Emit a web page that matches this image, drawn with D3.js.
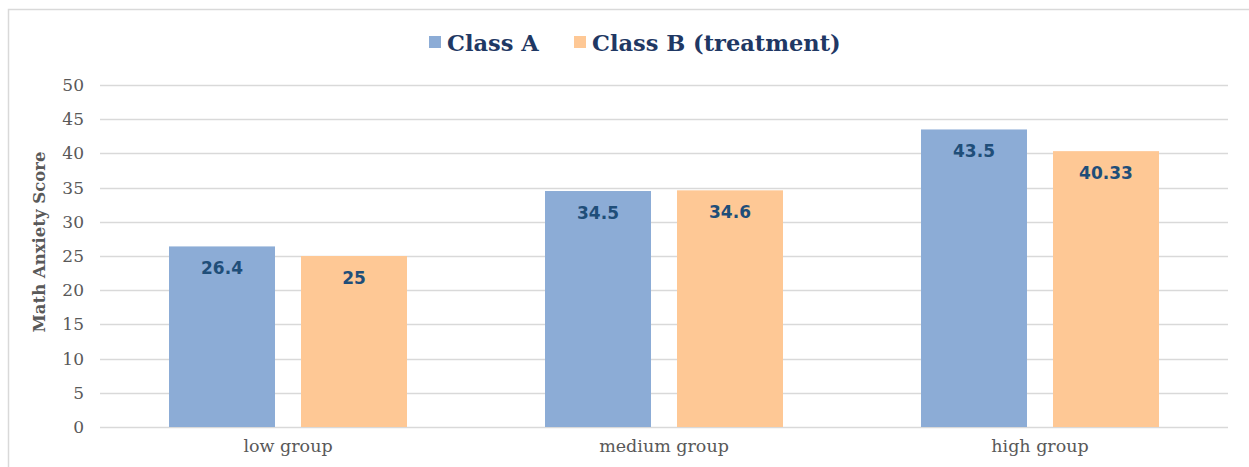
<!DOCTYPE html>
<html><head><meta charset="utf-8">
<script src="https://cdn.jsdelivr.net/npm/d3@7"></script>
<style>body{margin:0;background:#fff;}svg{display:block;}</style>
</head><body>
<svg id="chart" width="1249" height="467"></svg>
<script>
const categories = ["low group", "medium group", "high group"];
const seriesNames = ["Class A", "Class B (treatment)"];
const classA = [26.4, 34.5, 43.5];
const classB = [25, 34.6, 40.33];
const labelsA = ["26.4", "34.5", "43.5"];
const labelsB = ["25", "34.6", "40.33"];
const yTicks = [0, 5, 10, 15, 20, 25, 30, 35, 40, 45, 50];
const colors = ["#8CACD6", "#FEC895"];

const svg = d3.select("#chart");
const W = 1249, H = 467;
const plotBottom = 427;

// outer border
svg.append("rect").attr("x", 8.5).attr("y", 9.5).attr("width", W + 10).attr("height", H + 10)
  .attr("fill", "none").attr("stroke", "#d9d9d9").attr("stroke-width", 1.5);

const x0 = d3.scaleBand().domain(categories).range([100, 1228]).paddingInner(0).paddingOuter(0);
const x1 = d3.scaleBand().domain(seriesNames).range([69, 307]).paddingInner(0.197).paddingOuter(0);
const y = d3.scaleLinear().domain([0, 50]).range([plotBottom, 85]);

// gridlines
svg.append("g").selectAll("line").data(yTicks).join("line")
  .attr("x1", 100).attr("x2", 1228)
  .attr("y1", d => Math.round(y(d)) + 0.5).attr("y2", d => Math.round(y(d)) + 0.5)
  .attr("stroke", "#d9d9d9").attr("stroke-width", 1.3);

// y axis labels
const yAxis = d3.axisLeft(y).tickValues(yTicks).tickSize(0).tickPadding(16);
const gy = svg.append("g").attr("transform", "translate(100,0)").call(yAxis);
gy.select(".domain").remove();
gy.selectAll("text").attr("font-family", "DejaVu Serif").attr("font-size", 17)
  .attr("fill", "#595959").attr("font-weight", 300);

// y title
svg.append("text").attr("transform", "translate(45,242) rotate(-90)")
  .attr("text-anchor", "middle").attr("font-family", "DejaVu Serif").attr("font-weight", "bold")
  .attr("font-size", 16.5).attr("fill", "#595959").text("Math Anxiety Score");

// bars
const data = categories.map((c, i) => ({cat: c, vals: [
  {s: seriesNames[0], v: classA[i], l: labelsA[i], c: colors[0]},
  {s: seriesNames[1], v: classB[i], l: labelsB[i], c: colors[1]}]}));

const groups = svg.append("g").selectAll("g").data(data).join("g")
  .attr("transform", d => `translate(${x0(d.cat)},0)`);
groups.selectAll("rect").data(d => d.vals).join("rect")
  .attr("x", d => x1(d.s)).attr("width", x1.bandwidth())
  .attr("y", d => y(d.v)).attr("height", d => y(0) - y(d.v))
  .attr("fill", d => d.c);
groups.selectAll("text").data(d => d.vals).join("text")
  .attr("x", d => x1(d.s) + x1.bandwidth() / 2).attr("y", d => y(d.v) + 28)
  .attr("text-anchor", "middle").attr("font-family", "DejaVu Sans").attr("font-weight", "bold")
  .attr("font-size", 17).attr("fill", "#1F4E79").text(d => d.l);

// x axis labels
const xAxis = d3.axisBottom(x0).tickSize(0).tickPadding(13);
const gx = svg.append("g").attr("transform", `translate(0,${plotBottom})`).call(xAxis);
gx.select(".domain").remove();
gx.selectAll("text").attr("font-family", "DejaVu Serif").attr("font-size", 17.5)
  .attr("fill", "#595959").attr("font-weight", 300);

// legend
const legend = svg.append("g");
const legX = [429, 574];
seriesNames.forEach((s, i) => {
  legend.append("rect").attr("x", legX[i]).attr("y", 36).attr("width", 12).attr("height", 12).attr("fill", colors[i]);
  legend.append("text").attr("x", legX[i] + 18).attr("y", 50.5)
    .attr("font-family", "DejaVu Serif").attr("font-weight", "bold").attr("font-size", 22.5)
    .attr("fill", "#1F3864").text(s);
});
</script>
</body></html>
